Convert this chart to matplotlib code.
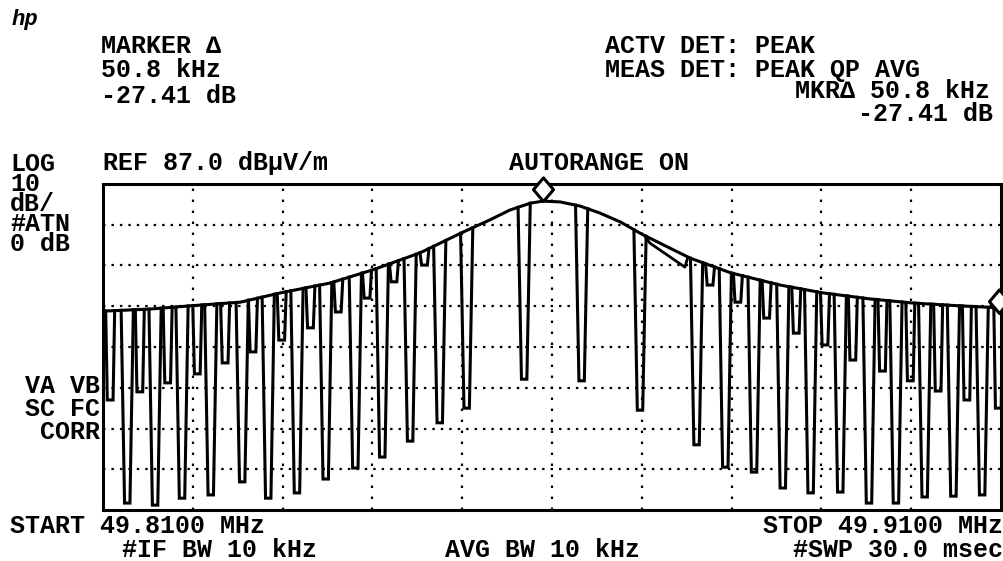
import numpy as np
import matplotlib
matplotlib.use("Agg")
import matplotlib.pyplot as plt
from matplotlib.path import Path

W, H = 1004, 561

# analyzer settings
f_start, f_stop = 49.81, 49.91          # MHz
ref_level = 87.0                         # dBuV/m
db_per_div = 10
n_vdiv = 8
n_hdiv = 10

# peak-hold envelope (MHz, dBuV/m)
env_freq = [49.8100, 49.8152, 49.8197, 49.8253, 49.8298, 49.8353, 49.8400,
            49.8453, 49.8499, 49.8531, 49.8553, 49.8576, 49.8590, 49.8609,
            49.8631, 49.8653, 49.8676, 49.8700, 49.8731, 49.8754, 49.8799,
            49.8854, 49.8901, 49.8954, 49.9001, 49.9054, 49.9100]
env_level = [55.8, 56.3, 57.1, 58.0, 60.3, 62.7, 65.9,
             70.1, 75.0, 78.2, 80.6, 82.3, 82.8, 82.6,
             81.6, 79.9, 77.7, 74.7, 71.3, 68.8, 65.2,
             62.2, 60.3, 58.8, 57.8, 57.1, 56.6]

# deep nulls in the swept trace
deep_freq = [49.8127, 49.8158, 49.8188, 49.8220, 49.8255, 49.8284, 49.8316,
             49.8348, 49.8381, 49.8411, 49.8442, 49.8475, 49.8505, 49.8569,
             49.8633, 49.8698, 49.8761, 49.8793, 49.8825, 49.8857, 49.8888,
             49.8921, 49.8953, 49.8983, 49.9015, 49.9047, 49.9079]
deep_level = [8.7, 8.2, 9.9, 10.7, 13.9, 9.9, 11.2,
              14.6, 17.3, 20.0, 23.9, 28.4, 32.0, 39.1,
              38.7, 31.5, 23.0, 17.5, 16.3, 12.4, 11.2,
              11.4, 8.7, 8.7, 10.2, 10.4, 10.7]

# shallow dips between the nulls
shallow_freq = [49.8108, 49.8141, 49.8172, 49.8205, 49.8236, 49.8267, 49.8299,
                49.8331, 49.8362, 49.8394, 49.8424, 49.8458,
                49.8776, 49.8807, 49.8839, 49.8872, 49.8904, 49.8935, 49.8968,
                49.8999, 49.9030, 49.9062, 49.9097]
shallow_level = [34.0, 36.0, 38.2, 40.4, 43.1, 45.8, 48.7,
                 51.7, 55.6, 59.0, 63.0, 67.1,
                 62.2, 58.0, 54.1, 50.4, 47.5, 43.8, 41.1,
                 38.7, 36.2, 34.0, 32.0]

# sagging stretch of the trace right of the third null
shelf_freq = [49.8704, 49.8709, 49.8748, 49.8751]
shelf_level = [74.0, 72.5, 66.6, 68.8]

# markers
mkr_freq = 49.8590
mkr_level = 82.8
delta_khz = 50.8
delta_db = -27.41

plt.rcParams["font.family"] = ["Liberation Mono", "DejaVu Sans Mono"]
plt.rcParams["font.weight"] = "bold"

fig = plt.figure(figsize=(W / 100, H / 100), dpi=100)
ax = fig.add_axes([103 / W, 1 - 510 / H, 898 / W, 326 / H])

bottom_level = ref_level - db_per_div * n_vdiv
ax.set_xlim(f_start, f_stop)
ax.set_ylim(bottom_level, ref_level)
ax.set_xticks(np.linspace(f_start, f_stop, n_hdiv + 1)[1:-1])
ax.set_yticks(np.linspace(bottom_level, ref_level, n_vdiv + 1)[1:-1])
ax.tick_params(length=0, labelbottom=False, labelleft=False)
ax.grid(axis="x", color="k", lw=1.6, linestyle=(0, (1.1, 3.85)))
ax.grid(axis="y", color="k", lw=1.6, linestyle=(0, (1.1, 2.7)))
ax.set_axisbelow(True)
for sp in ax.spines.values():
    sp.set_linewidth(2.2)

# envelope
ax.plot(env_freq, env_level, color="k", lw=2.2, zorder=3)
ax.plot(shelf_freq, shelf_level, color="k", lw=2.0, zorder=3)


def draw_notch(fc, bottom, top_hw, bot_hw):
    xs = [fc - top_hw, fc - bot_hw, fc + bot_hw, fc + top_hw]
    tl, tr = np.interp([xs[0], xs[3]], env_freq, env_level)
    ax.plot(xs, [tl, bottom, bottom, tr], color="k", lw=2.2, zorder=3,
            solid_joinstyle="miter")


for fc, lv in zip(deep_freq, deep_level):
    draw_notch(fc, lv, 0.00068, 0.00030)
for fc, lv in zip(shallow_freq, shallow_level):
    draw_notch(fc, lv, 0.00050, 0.00032)

# diamond marker with its tip on the trace
dia = Path([(0, 0), (0.85, 1), (0, 2), (-0.85, 1), (0, 0)],
           [Path.MOVETO, Path.LINETO, Path.LINETO, Path.LINETO, Path.CLOSEPOLY])
ax.plot([mkr_freq], [mkr_level], marker=dia, ms=34, mfc="white", mec="k",
        mew=2.2, clip_on=False, zorder=5)
ax.plot([mkr_freq + delta_khz / 1000], [mkr_level + delta_db], marker=dia, ms=34,
        mfc="white", mec="k", mew=2.2, clip_on=False, zorder=5)

FS = 18


def label(x, y, s, ha="left", va="center", **kw):
    fig.text(x / W, 1 - y / H, s, ha=ha, va=va, fontsize=FS, **kw)


fig.text(12 / W, 1 - 20 / H, "hp", fontsize=16, style="italic", va="center")

label(101, 46, "MARKER \u2206")
label(101, 70, "50.8 kHz")
label(101, 96, "-27.41 dB")
label(605, 46, "ACTV DET: PEAK")
label(605, 70, "MEAS DET: PEAK QP AVG")
label(990, 91, "MKR\u2206 50.8 kHz", ha="right")
label(993, 114, "-27.41 dB", ha="right")

label(10, 152, "LOG\n10\ndB/\n#ATN\n0 dB", va="top", linespacing=0.79)
label(103, 163, "REF 87.0 dB\u00b5V/m")
label(599, 163, "AUTORANGE ON", ha="center")
label(100, 374, "VA VB\nSC FC\nCORR", ha="right", va="top", linespacing=0.96,
      multialignment="right")

label(10, 526, "START 49.8100 MHz")
label(1003, 526, "STOP 49.9100 MHz", ha="right")
label(220, 550, "#IF BW 10 kHz", ha="center")
label(543, 550, "AVG BW 10 kHz", ha="center")
label(1003, 550, "#SWP 30.0 msec", ha="right")

fig.savefig("out.png", dpi=100)
